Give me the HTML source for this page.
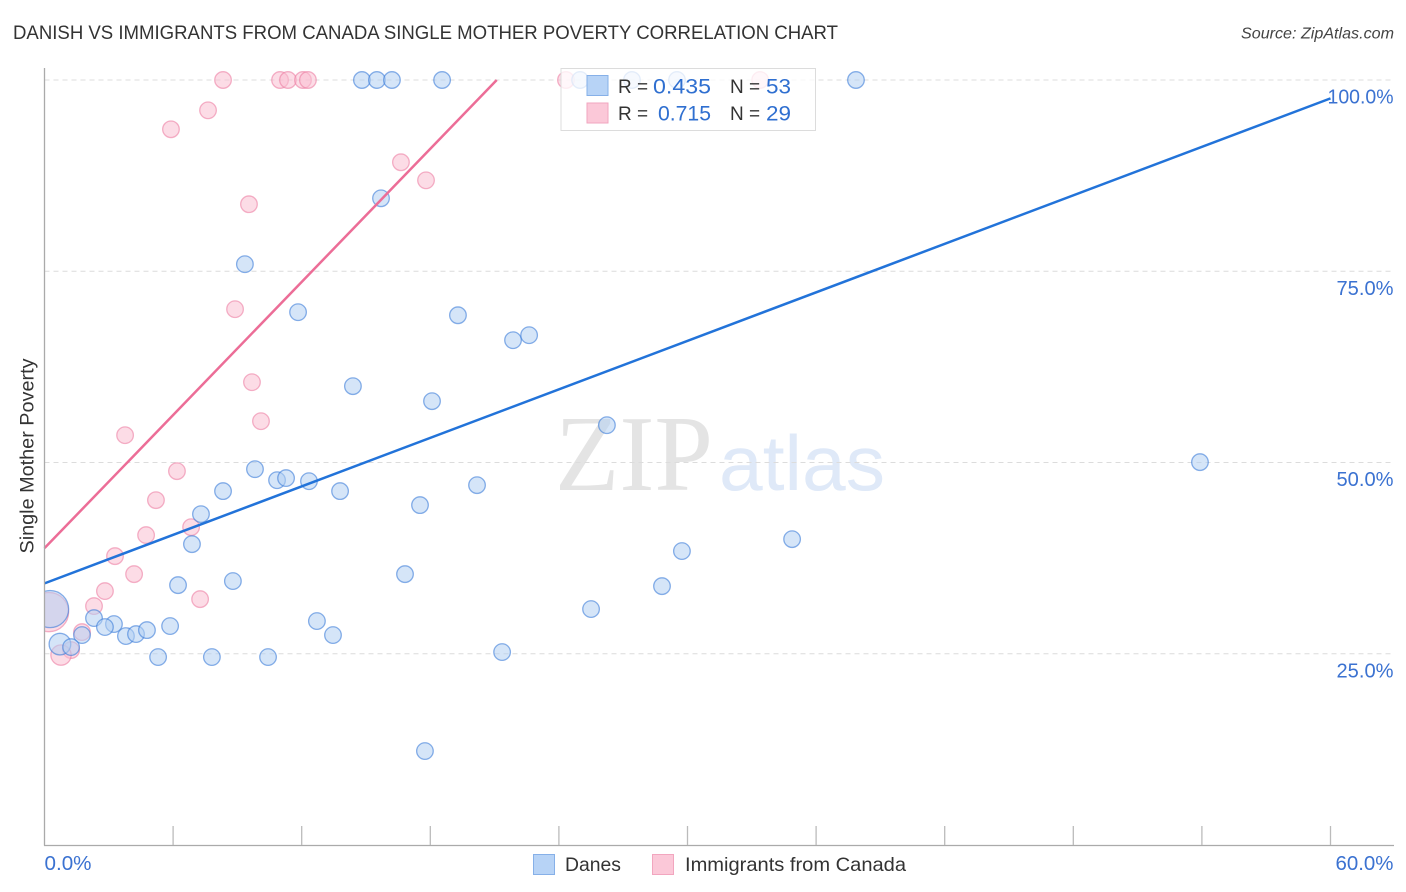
<!DOCTYPE html>
<html lang="en">
<head>
<meta charset="utf-8">
<title>Danish vs Immigrants from Canada Single Mother Poverty Correlation Chart</title>
<style>
html,body{margin:0;padding:0;background:#fff;width:1406px;height:892px;overflow:hidden}
svg{display:block;font-family:"Liberation Sans",sans-serif}
</style>
</head>
<body>
<svg id="chart" width="1406" height="892" viewBox="0 0 1406 892" xmlns="http://www.w3.org/2000/svg">
  <defs><clipPath id="plot-clip"><rect x="44.5" y="60" width="1350" height="785"/></clipPath></defs>
  <text x="13" y="39" font-size="19.5" fill="#333" textLength="825" lengthAdjust="spacingAndGlyphs">DANISH VS IMMIGRANTS FROM CANADA SINGLE MOTHER POVERTY CORRELATION CHART</text>
  <text x="1394" y="38.5" font-size="16" font-style="italic" fill="#444" text-anchor="end" textLength="153" lengthAdjust="spacingAndGlyphs">Source: ZipAtlas.com</text>
  <g id="watermark">
    <text x="555" y="490" font-family="'Liberation Serif',serif" font-size="108" fill="#e4e4e4" textLength="158" lengthAdjust="spacingAndGlyphs">ZIP</text>
    <text x="719" y="490" font-size="78" fill="#dfe9f8" textLength="166" lengthAdjust="spacingAndGlyphs">atlas</text>
  </g>
  <g id="grid"></g>
  <g id="points" clip-path="url(#plot-clip)"></g>
  <g id="trends"></g>
  <g id="axes"></g>
  <text transform="translate(33.5,456) rotate(-90)" font-size="19" fill="#333" text-anchor="middle" textLength="195" lengthAdjust="spacingAndGlyphs">Single Mother Poverty</text>
  <g>
    <rect x="561" y="68.5" width="254.5" height="62" fill="#fff" fill-opacity="0.78" stroke="#dcdcdc"/>
    <rect x="587" y="75.5" width="21" height="20" fill="#b7d3f6" stroke="#86b0e8"/>
    <rect x="587" y="103" width="21" height="20" fill="#fbc8d8" stroke="#f2a6bf"/>
    <text x="618" y="93" font-size="19" fill="#333">R =</text>
    <text x="653" y="93.5" font-size="21" fill="#2f6fd0" textLength="58" lengthAdjust="spacingAndGlyphs">0.435</text>
    <text x="730" y="93" font-size="19" fill="#333">N =</text>
    <text x="766" y="93.5" font-size="21" fill="#2f6fd0" textLength="25" lengthAdjust="spacingAndGlyphs">53</text>
    <text x="618" y="120" font-size="19" fill="#333">R =</text>
    <text x="658" y="120.5" font-size="21" fill="#2f6fd0" textLength="53" lengthAdjust="spacingAndGlyphs">0.715</text>
    <text x="730" y="120" font-size="19" fill="#333">N =</text>
    <text x="766" y="120.5" font-size="21" fill="#2f6fd0" textLength="25" lengthAdjust="spacingAndGlyphs">29</text>
  </g>
  <g>
    <rect x="533.5" y="854.5" width="21" height="20" fill="#b7d3f6" stroke="#86b0e8"/>
    <text x="565" y="871" font-size="19.5" fill="#333" textLength="56" lengthAdjust="spacingAndGlyphs">Danes</text>
    <rect x="652.5" y="854.5" width="21" height="20" fill="#fbc8d8" stroke="#f2a6bf"/>
    <text x="685" y="871" font-size="19.5" fill="#333" textLength="221" lengthAdjust="spacingAndGlyphs">Immigrants from Canada</text>
  </g>
</svg>
<script>
const yTickValues = [25, 50, 75, 100];
const yTickLabels = ["25.0%", "50.0%", "75.0%", "100.0%"];
const xTickValues = [0, 6, 12, 18, 24, 30, 36, 42, 48, 54, 60];
const xEndValues = [0, 60];
const xEndLabels = ["0.0%", "60.0%"];

const danesX = [14.81,15.51,16.21,18.55,24.99,27.41,29.51,37.86,15.70,9.35,11.83,19.29,21.86,22.61,14.39,18.08,26.24,53.91,9.82,10.85,11.27,12.34,8.33,13.79,20.18,17.52,7.30,6.88,29.74,34.88,6.23,8.79,16.82,28.81,25.50,12.71,13.46,2.31,3.24,2.82,3.80,4.27,4.78,5.86,1.75,0.72,1.24,5.30,7.81,10.43,21.35,17.75,0.26];
const danesY = [100,100,100,100,100,100,100,100,84.54,75.92,69.65,69.25,65.99,66.64,59.98,58.02,54.88,50.05,49.13,47.69,47.96,47.56,46.26,46.26,47.04,44.43,43.25,39.33,38.42,39.98,33.97,34.50,35.41,33.84,30.84,29.27,27.44,29.66,28.88,28.49,27.31,27.57,28.09,28.62,27.44,26.26,25.87,24.57,24.57,24.57,25.22,12.28,30.84];
const danesWeight = [1,1,1,1,1,1,1,1,1,1,1,1,1,1,1,1,1,1,1,1,1,1,1,1,1,1,1,1,1,1,1,1,1,1,1,1,1,1,1,1,1,1,1,1,1,1.7,1,1,1,1,1,1,5];

const canadaX = [8.33,10.99,11.36,12.06,12.29,24.33,33.39,7.63,5.90,16.63,17.80,9.54,8.89,9.68,10.10,3.76,6.18,5.20,6.84,4.74,3.29,4.18,2.82,7.26,2.31,1.75,1.24,0.77,0.21];
const canadaY = [100,100,100,100,100,100,100,96.04,93.56,89.25,86.89,83.76,70.04,60.50,55.40,53.57,48.87,45.08,41.55,40.51,37.76,35.41,33.19,32.14,31.23,27.83,25.48,24.83,30.45];
const canadaWeight = [1,1,1,1,1,1,1,1,1,1,1,1,1,1,1,1,1,1,1,1,1,1,1,1,1,1,1,1.5,5.6];

const danesTrendX = [0, 60];
const danesTrendY = [34.2, 97.6];
const canadaTrendX = [0, 21.1];
const canadaTrendY = [38.8, 100];

const NS = "http://www.w3.org/2000/svg";
function xScale(v){ return 44.5 + v * (1330.5 - 44.5) / 60; }
function yScale(v){ return 845 - v * (845 - 80) / 100; }
function rScale(w){ return 8.3 * Math.sqrt(w); }
function make(tag, attrs, parent){
  const el = document.createElementNS(NS, tag);
  for (const k in attrs) el.setAttribute(k, attrs[k]);
  parent.appendChild(el);
  return el;
}

const gridG = document.getElementById("grid");
yTickValues.forEach(function(v, i){
  const line = make("line", {x1:44.5, x2:1394, y1:yScale(v), y2:yScale(v), stroke:"#dcdcdc", "stroke-width":1, "stroke-dasharray":"5 4"}, gridG);
  
  
});

const pointsG = document.getElementById("points");
function drawSeries(xs, ys, ws, fill, stroke, name){
  xs.forEach(function(v, i){
    const c = make("circle", {cx:xScale(v), cy:yScale(ys[i]), r:rScale(ws[i]), fill:fill, "fill-opacity":0.55, stroke:stroke, "stroke-opacity":0.6, "stroke-width":1.3}, pointsG);
    
    
  });
}
drawSeries(canadaX, canadaY, canadaWeight, "#f9c0d2", "#ec7fa3", "canada-point");
drawSeries(danesX, danesY, danesWeight, "#b3cff2", "#3a7bd9", "danes-point");

const trendsG = document.getElementById("trends");
const blueLine = make("line", {x1:xScale(danesTrendX[0]), y1:yScale(danesTrendY[0]), x2:xScale(danesTrendX[1]), y2:yScale(danesTrendY[1]), stroke:"#2273d9", "stroke-width":2.5}, trendsG);


const pinkLine = make("line", {x1:xScale(canadaTrendX[0]), y1:yScale(canadaTrendY[0]), x2:xScale(canadaTrendX[1]), y2:yScale(canadaTrendY[1]), stroke:"#ec6d97", "stroke-width":2.5}, trendsG);



const axesG = document.getElementById("axes");
const yAxis = make("line", {x1:44.5, x2:44.5, y1:68, y2:845.5, stroke:"#aaa", "stroke-width":1.3}, axesG);


const xAxis = make("line", {x1:44, x2:1394, y1:845.5, y2:845.5, stroke:"#aaa", "stroke-width":1.3}, axesG);


xTickValues.forEach(function(v){
  if (v === 0) return;
  const t = make("line", {x1:xScale(v), x2:xScale(v), y1:826, y2:845, stroke:"#bbb", "stroke-width":1.3}, axesG);
  
  
});
yTickValues.forEach(function(v, i){
  const t = make("text", {x:1393.5, y:yScale(v) + 23.5, "font-size":20, fill:"#3b72d1", "text-anchor":"end", textLength: v === 100 ? 66 : 57, lengthAdjust:"spacingAndGlyphs"}, axesG);
  t.textContent = yTickLabels[i];
  
  
});
xEndValues.forEach(function(v, i){
  const t = make("text", {x: i === 0 ? xScale(v) : 1393.5, y:870, "font-size":20, fill:"#3b72d1", "text-anchor": i === 0 ? "start" : "end", textLength: i === 0 ? 47 : 58, lengthAdjust:"spacingAndGlyphs"}, axesG);
  t.textContent = xEndLabels[i];
  
  
});
</script>
</body>
</html>
